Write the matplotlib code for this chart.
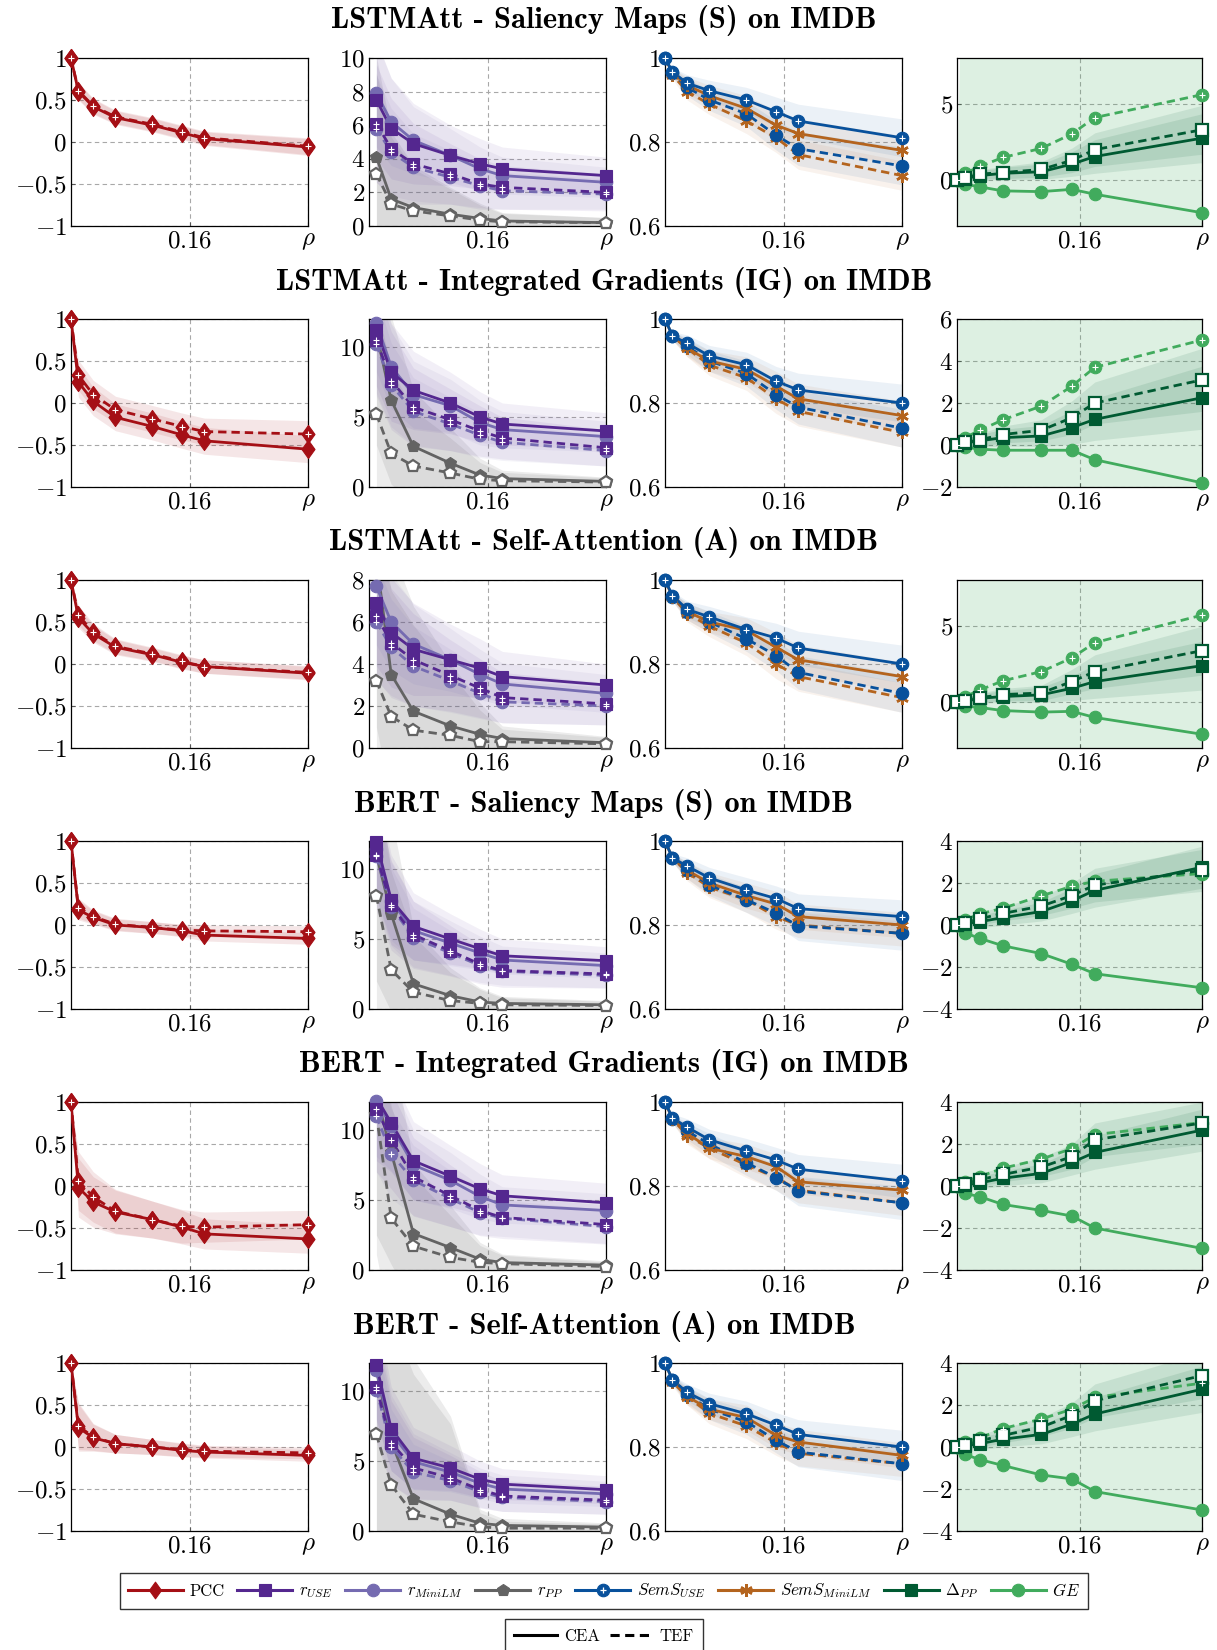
import numpy as np
import matplotlib
matplotlib.use("Agg")
import matplotlib.pyplot as plt
from matplotlib.lines import Line2D
from matplotlib.path import Path

plt.rcParams["mathtext.fontset"] = "cm"
plt.rcParams["font.family"] = ["cmr10", "DejaVu Serif"]
plt.rcParams["axes.formatter.use_mathtext"] = True

NaN = float("nan")

# ---- data ----
RHO = [0.0, 0.01, 0.03, 0.06, 0.11, 0.15, 0.18, 0.32]

TITLES = [
    "LSTMAtt - Saliency Maps (S) on IMDB",
    "LSTMAtt - Integrated Gradients (IG) on IMDB",
    "LSTMAtt - Self-Attention (A) on IMDB",
    "BERT - Saliency Maps (S) on IMDB",
    "BERT - Integrated Gradients (IG) on IMDB",
    "BERT - Self-Attention (A) on IMDB",
]

PCC_CEA = [
    [1, 0.60, 0.42, 0.29, 0.20, 0.11, 0.04, -0.06],
    [1, 0.25, 0.02, -0.17, -0.28, -0.38, -0.45, -0.55],
    [1, 0.55, 0.36, 0.20, 0.11, 0.02, -0.03, -0.11],
    [1, 0.18, 0.09, 0.00, -0.03, -0.07, -0.12, -0.16],
    [1, -0.02, -0.19, -0.31, -0.40, -0.49, -0.57, -0.63],
    [1, 0.23, 0.11, 0.04, 0.00, -0.04, -0.06, -0.10],
]
PCC_TEF = [
    [1, 0.61, 0.43, 0.30, 0.21, 0.12, 0.05, -0.05],
    [1, 0.33, 0.10, -0.08, -0.19, -0.28, -0.34, -0.37],
    [1, 0.58, 0.38, 0.21, 0.12, 0.03, -0.03, -0.10],
    [1, 0.20, 0.10, 0.01, -0.03, -0.06, -0.07, -0.08],
    [1, 0.06, -0.13, -0.30, -0.40, -0.48, -0.49, -0.46],
    [1, 0.25, 0.12, 0.04, 0.00, -0.03, -0.05, -0.07],
]
PCC_SD = [
    [0, 0.10, 0.09, 0.08, 0.08, 0.08, 0.08, 0.10],
    [0, 0.18, 0.17, 0.16, 0.16, 0.16, 0.16, 0.16],
    [0, 0.12, 0.10, 0.09, 0.08, 0.08, 0.08, 0.08],
    [0, 0.12, 0.08, 0.07, 0.07, 0.07, 0.07, 0.07],
    [0, 0.35, 0.30, 0.26, 0.22, 0.20, 0.18, 0.17],
    [0, 0.28, 0.16, 0.11, 0.09, 0.08, 0.07, 0.07],
]

R_USE_CEA = [
    [NaN, 7.5, 5.8, 4.9, 4.2, 3.7, 3.4, 3.0],
    [NaN, 11.2, 8.2, 6.9, 6.0, 5.0, 4.5, 4.0],
    [NaN, 6.9, 5.5, 4.7, 4.2, 3.8, 3.4, 3.0],
    [NaN, 11.9, 7.8, 5.9, 5.0, 4.3, 3.8, 3.45],
    [NaN, 12.3, 10.5, 7.8, 6.7, 5.8, 5.3, 4.8],
    [NaN, 11.85, 7.3, 5.2, 4.5, 3.7, 3.35, 2.95],
]
R_USE_TEF = [
    [NaN, 6.1, 4.6, 3.7, 3.1, 2.5, 2.3, 2.0],
    [NaN, 10.5, 7.6, 5.7, 4.8, 4.0, 3.5, 2.8],
    [NaN, 6.3, 5.0, 4.2, 3.45, 2.85, 2.4, 2.1],
    [NaN, 11.0, 7.4, 5.3, 4.15, 3.2, 2.75, 2.5],
    [NaN, 11.5, 9.3, 6.65, 5.3, 4.25, 3.75, 3.25],
    [NaN, 10.3, 6.3, 4.5, 3.8, 2.95, 2.5, 2.2],
]
R_USE_SD = [
    [NaN, 3.5, 3.0, 2.4, 1.8, 1.5, 1.3, 1.1],
    [NaN, 4.0, 3.5, 2.8, 2.2, 1.8, 1.5, 1.3],
    [NaN, 3.0, 2.6, 2.2, 1.7, 1.4, 1.2, 1.0],
    [NaN, 4.0, 3.2, 2.4, 1.8, 1.4, 1.2, 1.0],
    [NaN, 4.5, 3.5, 2.8, 2.2, 1.8, 1.5, 1.4],
    [NaN, 4.0, 3.0, 2.2, 1.6, 1.3, 1.1, 1.0],
]

R_MINI_CEA = [
    [NaN, 7.9, 6.2, 5.1, 4.2, 3.4, 3.0, 2.6],
    [NaN, 11.7, 8.6, 6.6, 5.8, 4.6, 4.1, 3.6],
    [NaN, 7.7, 6.0, 4.95, 4.2, 3.5, 3.05, 2.6],
    [NaN, 11.4, 7.7, 5.6, 4.7, 4.0, 3.5, 3.1],
    [NaN, 12.1, 10.3, 7.5, 6.4, 5.25, 4.65, 4.25],
    [NaN, 11.5, 7.0, 4.95, 4.2, 3.4, 3.0, 2.65],
]
R_MINI_TEF = [
    [NaN, 5.8, 4.4, 3.5, 2.9, 2.4, 2.1, 1.9],
    [NaN, 10.2, 7.3, 5.4, 4.5, 3.7, 3.2, 2.6],
    [NaN, 6.0, 4.8, 3.9, 3.2, 2.6, 2.2, 2.0],
    [NaN, 10.9, 7.3, 5.1, 4.0, 3.1, 2.7, 2.4],
    [NaN, 11.0, 8.3, 6.4, 5.1, 4.1, 3.7, 3.1],
    [NaN, 10.1, 6.0, 4.2, 3.6, 2.8, 2.4, 2.1],
]
R_MINI_SD = [
    [NaN, 3.2, 2.6, 2.0, 1.6, 1.3, 1.1, 0.9],
    [NaN, 3.5, 3.0, 2.4, 1.9, 1.6, 1.3, 1.1],
    [NaN, 2.8, 2.3, 1.9, 1.5, 1.2, 1.0, 0.9],
    [NaN, 3.5, 2.8, 2.1, 1.6, 1.2, 1.0, 0.9],
    [NaN, 4.0, 3.2, 2.5, 2.0, 1.6, 1.3, 1.2],
    [NaN, 3.5, 2.7, 2.0, 1.4, 1.1, 1.0, 0.9],
]

R_PP_CEA = [
    [NaN, 4.1, 1.6, 1.1, 0.7, 0.45, 0.3, 0.2],
    [NaN, 11.0, 6.2, 2.9, 1.7, 0.85, 0.6, 0.4],
    [NaN, 9.0, 3.5, 1.75, 1.05, 0.65, 0.45, 0.25],
    [NaN, 11.0, 6.8, 1.8, 0.95, 0.5, 0.4, 0.3],
    [NaN, 12.5, 8.4, 2.6, 1.6, 0.77, 0.53, 0.35],
    [NaN, 11.5, 6.4, 2.3, 1.2, 0.55, 0.4, 0.28],
]
R_PP_TEF = [
    [NaN, 3.1, 1.3, 0.9, 0.6, 0.35, 0.25, 0.2],
    [NaN, 5.2, 2.4, 1.5, 1.0, 0.55, 0.45, 0.35],
    [NaN, 3.2, 1.5, 0.85, 0.6, 0.3, 0.3, 0.2],
    [NaN, 8.1, 2.8, 1.2, 0.6, 0.4, 0.3, 0.25],
    [NaN, 11.1, 3.7, 1.7, 0.9, 0.55, 0.45, 0.25],
    [NaN, 6.9, 3.3, 1.2, 0.65, 0.3, 0.2, 0.2],
]
R_PP_SD = [
    [NaN, 6.0, 4.0, 2.5, 1.6, 0.9, 0.5, 0.3],
    [NaN, 8.0, 6.0, 4.0, 2.5, 1.2, 0.6, 0.3],
    [NaN, 8.0, 6.0, 5.0, 3.0, 1.5, 0.6, 0.3],
    [NaN, 9.0, 7.0, 4.0, 2.0, 1.0, 0.5, 0.3],
    [NaN, 10.0, 8.0, 5.0, 3.0, 1.2, 0.6, 0.3],
    [NaN, 12.0, 12.0, 10.0, 7.0, 1.0, 0.5, 0.3],
]

SEM_USE_CEA = [
    [1, 0.967, 0.94, 0.922, 0.90, 0.872, 0.85, 0.81],
    [1, 0.96, 0.942, 0.912, 0.891, 0.852, 0.831, 0.80],
    [1, 0.963, 0.93, 0.912, 0.882, 0.862, 0.838, 0.80],
    [1, 0.96, 0.94, 0.912, 0.883, 0.863, 0.839, 0.82],
    [1, 0.962, 0.94, 0.91, 0.883, 0.862, 0.84, 0.812],
    [1, 0.96, 0.93, 0.903, 0.879, 0.852, 0.83, 0.80],
]
SEM_USE_TEF = [
    [1, 0.965, 0.93, 0.90, 0.867, 0.816, 0.784, 0.743],
    [1, 0.96, 0.935, 0.90, 0.87, 0.82, 0.79, 0.74],
    [1, 0.96, 0.925, 0.90, 0.86, 0.82, 0.78, 0.73],
    [1, 0.96, 0.93, 0.895, 0.86, 0.828, 0.798, 0.78],
    [1, 0.96, 0.93, 0.90, 0.855, 0.82, 0.788, 0.76],
    [1, 0.96, 0.925, 0.89, 0.86, 0.816, 0.788, 0.76],
]
SEM_USE_SD = [
    [0, 0.01, 0.02, 0.025, 0.03, 0.035, 0.04, 0.045],
    [0, 0.01, 0.02, 0.025, 0.03, 0.035, 0.04, 0.045],
    [0, 0.01, 0.02, 0.025, 0.03, 0.035, 0.04, 0.045],
    [0, 0.01, 0.02, 0.025, 0.03, 0.03, 0.035, 0.04],
    [0, 0.01, 0.02, 0.025, 0.03, 0.03, 0.035, 0.04],
    [0, 0.01, 0.02, 0.025, 0.03, 0.03, 0.035, 0.04],
]

SEM_MINI_CEA = [
    [1, 0.965, 0.935, 0.91, 0.88, 0.84, 0.82, 0.78],
    [1, 0.96, 0.93, 0.90, 0.88, 0.84, 0.81, 0.77],
    [1, 0.96, 0.925, 0.90, 0.88, 0.84, 0.81, 0.77],
    [1, 0.96, 0.93, 0.90, 0.87, 0.85, 0.82, 0.80],
    [1, 0.96, 0.925, 0.89, 0.87, 0.846, 0.81, 0.79],
    [1, 0.96, 0.92, 0.89, 0.87, 0.828, 0.812, 0.78],
]
SEM_MINI_TEF = [
    [1, 0.96, 0.92, 0.89, 0.85, 0.81, 0.77, 0.72],
    [1, 0.96, 0.93, 0.89, 0.86, 0.81, 0.78, 0.73],
    [1, 0.96, 0.92, 0.89, 0.85, 0.80, 0.77, 0.72],
    [1, 0.96, 0.925, 0.89, 0.86, 0.82, 0.80, 0.78],
    [1, 0.96, 0.92, 0.89, 0.85, 0.82, 0.79, 0.76],
    [1, 0.955, 0.92, 0.88, 0.85, 0.81, 0.785, 0.76],
]
SEM_MINI_SD = [
    [0, 0.01, 0.02, 0.025, 0.03, 0.035, 0.035, 0.035],
    [0, 0.01, 0.02, 0.025, 0.03, 0.035, 0.035, 0.035],
    [0, 0.01, 0.02, 0.025, 0.03, 0.035, 0.035, 0.035],
    [0, 0.01, 0.02, 0.025, 0.03, 0.03, 0.03, 0.03],
    [0, 0.01, 0.02, 0.025, 0.03, 0.03, 0.03, 0.03],
    [0, 0.01, 0.02, 0.025, 0.03, 0.03, 0.03, 0.03],
]

DPP_CEA = [
    [0, 0.1, 0.3, 0.45, 0.55, 1.05, 1.55, 2.75],
    [0, 0.1, 0.2, 0.35, 0.43, 0.83, 1.22, 2.25],
    [0, 0.05, 0.25, 0.37, 0.48, 0.91, 1.35, 2.39],
    [0, 0.05, 0.16, 0.35, 0.64, 1.15, 1.65, 2.75],
    [0, 0.05, 0.15, 0.37, 0.6, 1.12, 1.6, 2.66],
    [0, 0.05, 0.16, 0.37, 0.6, 1.09, 1.57, 2.75],
]
DPP_TEF = [
    [0, 0.15, 0.4, 0.5, 0.7, 1.3, 2.0, 3.3],
    [0, 0.12, 0.25, 0.5, 0.7, 1.3, 2.0, 3.1],
    [0, 0.1, 0.3, 0.5, 0.6, 1.35, 2.0, 3.37],
    [0, 0.1, 0.3, 0.55, 0.9, 1.4, 1.9, 2.6],
    [0, 0.1, 0.3, 0.55, 0.9, 1.4, 2.2, 3.0],
    [0, 0.1, 0.3, 0.55, 0.95, 1.5, 2.2, 3.4],
]
DPP_SD = [
    [0, 0.2, 0.3, 0.4, 0.5, 0.8, 1.1, 1.6],
    [0, 0.2, 0.3, 0.4, 0.5, 0.8, 1.0, 1.5],
    [0, 0.2, 0.3, 0.4, 0.5, 0.8, 1.1, 1.6],
    [0, 0.2, 0.3, 0.35, 0.45, 0.6, 0.8, 1.0],
    [0, 0.2, 0.3, 0.35, 0.45, 0.6, 0.8, 1.0],
    [0, 0.2, 0.3, 0.35, 0.45, 0.6, 0.8, 1.1],
]

GE_CEA = [
    [0, -0.26, -0.44, -0.7, -0.75, -0.6, -0.92, -2.13],
    [0, -0.1, -0.2, -0.25, -0.25, -0.25, -0.7, -1.8],
    [0, -0.25, -0.35, -0.55, -0.65, -0.6, -1.0, -2.1],
    [0, -0.37, -0.64, -0.99, -1.36, -1.87, -2.32, -2.99],
    [0, -0.35, -0.51, -0.88, -1.16, -1.43, -2.0, -2.97],
    [0, -0.35, -0.6, -0.88, -1.33, -1.52, -2.12, -3.0],
]
GE_TEF = [
    [0, 0.44, 0.9, 1.49, 2.08, 3.03, 4.1, 5.6],
    [0, 0.35, 0.7, 1.2, 1.85, 2.8, 3.7, 5.0],
    [0, 0.35, 0.8, 1.4, 2.0, 2.9, 3.9, 5.7],
    [0, 0.24, 0.53, 0.8, 1.39, 1.84, 2.08, 2.45],
    [0, 0.2, 0.45, 0.85, 1.28, 1.78, 2.45, 3.02],
    [0, 0.24, 0.43, 0.88, 1.33, 1.8, 2.36, 3.04],
]
GE_SD = [0, 25, 25, 25, 25, 25, 25, 25]

# axis settings per row: (ylim, yticks) for panels 2 and 4
P2_Y = [((0, 10), [0, 2, 4, 6, 8, 10]), ((0, 12), [0, 5, 10]), ((0, 8), [0, 2, 4, 6, 8]),
        ((0, 12), [0, 5, 10]), ((0, 12), [0, 5, 10]), ((0, 12), [0, 5, 10])]
P4_Y = [((-3, 8), [0, 5]), ((-2, 6), [-2, 0, 2, 4, 6]), ((-3, 8), [0, 5]),
        ((-4, 4), [-4, -2, 0, 2, 4]), ((-4, 4), [-4, -2, 0, 2, 4]), ((-4, 4), [-4, -2, 0, 2, 4])]

C_PCC = "#a50f15"
C_RUSE = "#54278f"
C_RMINI = "#756bb1"
C_RPP = "#636363"
C_SUSE = "#08519c"
C_SMINI = "#b4641e"
C_DPP = "#005a32"
C_GE = "#41ab5d"
ASTER = (6, 2, 0)
# pgfplots-like diamond (a bit wider than matplotlib's thin diamond)
DIAMOND = Path([(0, 1), (0.72, 0), (0, -1), (-0.72, 0), (0, 1)],
               [Path.MOVETO, Path.LINETO, Path.LINETO, Path.LINETO, Path.CLOSEPOLY])

W, H = 1217, 1650
fig = plt.figure(figsize=(W / 100, H / 100), dpi=100)

PANEL_X = [(71, 237), (369, 237), (665, 237), (957, 245)]
ROW_TOP0, ROW_H, ROW_STEP = 58, 168, 261


def fmt(v):
    s = ("%g" % abs(v))
    return r"$-%s$" % s if v < 0 else r"$%s$" % s


def series(ax, y, sd, color, marker, dashed, face, ylim, ms=9, alpha=0.1):
    x = np.array(RHO)
    y = np.array(y, float)
    sd = np.array(sd, float)
    ax.fill_between(x, y - sd, y + sd, color=color, alpha=alpha, lw=0, zorder=1)
    ls = (0, (3, 1.8)) if dashed else "-"
    ax.plot(x, y, color=color, lw=2, ls=ls, zorder=3)
    span = ylim[1] - ylim[0]
    ok = (y >= ylim[0] - 0.02 * span) & (y <= ylim[1] + 0.02 * span)
    mfc = "white" if face == "open" else color
    mew = 1.6 if face == "open" else (1.8 if marker == ASTER else 0.8)
    ax.plot(x[ok], y[ok], ls="none", marker=marker, ms=ms, mfc=mfc, mec=color,
            mew=mew, clip_on=False, zorder=4)
    if face == "plus":
        ax.plot(x[ok], y[ok], ls="none", marker="+", ms=min(ms, 9) * 0.5, mec="white",
                mew=0.8, clip_on=False, zorder=5)


def style_axes(ax, ylim, yticks):
    ax.set_xlim(0, 0.32)
    ax.set_ylim(*ylim)
    ax.set_xticks([0.16, 0.32])
    ax.set_xticklabels(["$0.16$", r"$\rho$"])
    ax.set_yticks(yticks)
    ax.set_yticklabels([fmt(v) for v in yticks])
    ax.tick_params(labelsize=18, length=3, direction="in", color="#555555", pad=3)
    ax.set_axisbelow(True)
    ax.grid(True, ls=(0, (4, 3)), color="#a8a8a8", lw=0.8)
    for sp in ax.spines.values():
        sp.set_linewidth(0.9)
        sp.set_color("black")


for r in range(6):
    top = ROW_TOP0 + ROW_STEP * r
    bottom = 1 - (top + ROW_H) / H
    axs = [fig.add_axes([x0 / W, bottom, w / W, ROW_H / H]) for x0, w in PANEL_X]

    # panel 1: PCC
    ax = axs[0]
    yl = (-1, 1)
    series(ax, PCC_TEF[r], PCC_SD[r], C_PCC, DIAMOND, True, "plus", yl, ms=13)
    series(ax, PCC_CEA[r], PCC_SD[r], C_PCC, DIAMOND, False, "filled", yl, ms=13)
    style_axes(ax, yl, [-1, -0.5, 0, 0.5, 1])

    # panel 2: correlations
    ax = axs[1]
    yl, yt = P2_Y[r]
    series(ax, R_PP_CEA[r], R_PP_SD[r], C_RPP, "p", False, "filled", yl, alpha=0.12)
    series(ax, R_PP_TEF[r], R_PP_SD[r], C_RPP, "p", True, "open", yl, alpha=0.12)
    series(ax, R_MINI_CEA[r], R_MINI_SD[r], C_RMINI, "o", False, "filled", yl, alpha=0.08)
    series(ax, R_MINI_TEF[r], R_MINI_SD[r], C_RMINI, "o", True, "plus", yl, alpha=0.08)
    series(ax, R_USE_CEA[r], R_USE_SD[r], C_RUSE, "s", False, "filled", yl, alpha=0.07)
    series(ax, R_USE_TEF[r], R_USE_SD[r], C_RUSE, "s", True, "plus", yl, alpha=0.07)
    style_axes(ax, yl, yt)

    # panel 3: semantic similarity
    ax = axs[2]
    yl = (0.6, 1)
    series(ax, SEM_MINI_TEF[r], SEM_MINI_SD[r], C_SMINI, ASTER, True, "filled", yl, alpha=0.08)
    series(ax, SEM_USE_TEF[r], SEM_USE_SD[r], C_SUSE, "o", True, "filled", yl, alpha=0.08)
    series(ax, SEM_MINI_CEA[r], SEM_MINI_SD[r], C_SMINI, ASTER, False, "filled", yl, alpha=0.08)
    series(ax, SEM_USE_CEA[r], SEM_USE_SD[r], C_SUSE, "o", False, "plus", yl, alpha=0.08)
    style_axes(ax, yl, [0.6, 0.8, 1])

    # panel 4: Delta PP and GE
    ax = axs[3]
    yl, yt = P4_Y[r]
    series(ax, GE_CEA[r], GE_SD, C_GE, "o", False, "filled", yl, alpha=0.09)
    series(ax, GE_TEF[r], GE_SD, C_GE, "o", True, "plus", yl, alpha=0.09)
    series(ax, DPP_CEA[r], DPP_SD[r], C_DPP, "s", False, "filled", yl, alpha=0.1)
    series(ax, DPP_TEF[r], DPP_SD[r], C_DPP, "s", True, "open", yl, alpha=0.1)
    style_axes(ax, yl, yt)

    fig.text(604 / W, 1 - (21 + ROW_STEP * r) / H, TITLES[r], ha="center", va="center",
             family="cmb10", fontsize=22)

# legends
def handle(color, marker, face="filled"):
    mew = 1.8 if marker == ASTER else 0.8
    ms = 12 if marker is DIAMOND else 9
    base = Line2D([], [], color=color, lw=2.2, marker=marker, ms=ms, mfc=color, mec=color, mew=mew)
    if face == "plus":
        return (base, Line2D([], [], ls="none", marker="+", ms=5, mec="white", mew=0.9))
    return base

handles = [handle(C_PCC, DIAMOND), handle(C_RUSE, "s"), handle(C_RMINI, "o"), handle(C_RPP, "p"),
           handle(C_SUSE, "o", "plus"), handle(C_SMINI, ASTER), handle(C_DPP, "s"), handle(C_GE, "o")]
labels = ["PCC", r"$r_{USE}$", r"$r_{MiniLM}$", r"$r_{PP}$", r"$SemS_{USE}$",
          r"$SemS_{MiniLM}$", r"$\Delta_{PP}$", r"$GE$"]
leg1 = fig.legend(handles, labels, ncol=8, loc="center", bbox_to_anchor=(604 / W, 1 - 1591 / H),
                  frameon=True, fancybox=False, edgecolor="black", fontsize=12,
                  handlelength=3.3, columnspacing=0.75, handletextpad=0.4, borderpad=0.5)
leg1.get_frame().set_linewidth(1.0)

h2 = [Line2D([], [], color="black", lw=2.2), Line2D([], [], color="black", lw=2.2, ls=(0, (3, 1.8)))]
leg2 = fig.legend(h2, ["CEA", "TEF"], ncol=2, loc="center", bbox_to_anchor=(604 / W, 1 - 1636 / H),
                  frameon=True, fancybox=False, edgecolor="black", fontsize=12,
                  handlelength=2.6, columnspacing=0.6, handletextpad=0.4, borderpad=0.55)
leg2.get_frame().set_linewidth(1.0)

fig.savefig("out.png", dpi=100)
